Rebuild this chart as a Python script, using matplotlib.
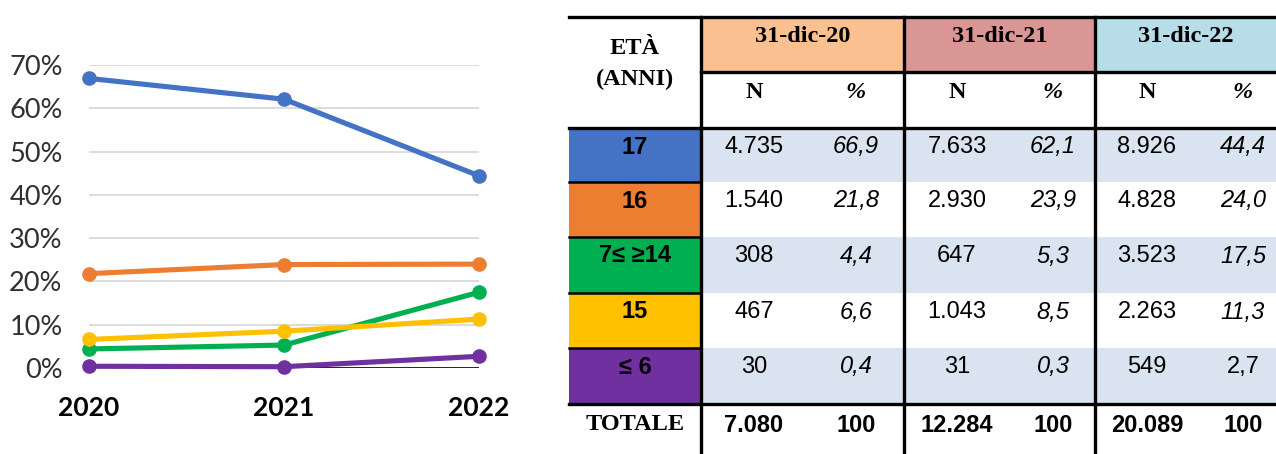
import numpy as np
import matplotlib
import matplotlib.pyplot as plt
from matplotlib.patches import Rectangle

matplotlib.use("Agg")

# data
years = [2020, 2021, 2022]
ages = ["17", "16", "7≤ ≥14", "15", "≤ 6"]
pct_2020 = [66.9, 21.8, 4.4, 6.6, 0.4]
pct_2021 = [62.1, 23.9, 5.3, 8.5, 0.3]
pct_2022 = [44.4, 24.0, 17.5, 11.3, 2.7]
n_2020 = [4735, 1540, 308, 467, 30]
n_2021 = [7633, 2930, 647, 1043, 31]
n_2022 = [8926, 4828, 3523, 2263, 549]
totals = [7080, 12284, 20089]
date_headers = ["31-dic-20", "31-dic-21", "31-dic-22"]

colors = ["#4472C4", "#ED7D31", "#00B050", "#FFC000", "#7030A0"]
header_fills = ["#FAC090", "#DA9694", "#B7DEE8"]
shade = "#DAE3F0"

W, H = 1276, 454
fig = plt.figure(figsize=(W / 100, H / 100), dpi=100)

# ---- line chart ----
ax = fig.add_axes([89 / W, (H - 368) / H, 390 / W, 303 / H])
pcts = np.array([pct_2020, pct_2021, pct_2022]).T / 100
for yt in np.arange(0.1, 0.71, 0.1):
    ax.axhline(yt, color="#D9D9D9", lw=1.3, zorder=1)
ax.axhline(0, color="black", lw=1.2, zorder=1)
for i in range(len(ages)):
    ax.plot(years, pcts[i], color=colors[i], lw=3.7, marker="o",
            markersize=9.5, clip_on=False, zorder=3)
ax.set_xlim(2020, 2022)
ax.set_ylim(0, 0.7)
ax.set_xticks(years)
ax.set_xticklabels([str(y) for y in years], fontfamily="Lato",
                   fontweight="bold", fontsize=19)
ax.set_yticks(np.arange(0, 0.71, 0.1))
ax.set_yticklabels([f"{int(round(v * 100))}%" for v in np.arange(0, 0.71, 0.1)],
                   fontfamily="Lato", fontsize=19.5, color="#303030")
ax.tick_params(axis="x", length=0, pad=20)
ax.tick_params(axis="y", length=0, pad=19)
for s in ax.spines.values():
    s.set_visible(False)

# ---- table ----
tb = fig.add_axes([0, 0, 1, 1])
tb.set_xlim(0, W)
tb.set_ylim(H, 0)
tb.axis("off")

col_x = [569, 701, 904, 1095, 1276]
row_y = [17, 72, 128, 182, 237, 293, 348, 404, 460]
n_x = [754, 957, 1147]
p_x = [856, 1053, 1243]
serif = dict(fontfamily="Liberation Serif", fontweight="bold", fontsize=17.5,
             ha="center", va="center")
sans = ["Liberation Sans", "DejaVu Sans"]
fs = 17

# header fills
for j in range(3):
    tb.add_patch(Rectangle((col_x[j + 1], row_y[0]), col_x[j + 2] - col_x[j + 1],
                           row_y[1] - row_y[0], color=header_fills[j], lw=0))
    tb.text((col_x[j + 1] + col_x[j + 2]) / 2, 37, date_headers[j], **serif)
    tb.text(n_x[j], 93, "N", **serif)
    tb.text(p_x[j], 93, "%", fontstyle="italic", **serif)
tb.text(635, 49, "ETÀ", **serif)
tb.text(635, 79, "(ANNI)", **serif)

ns = [n_2020, n_2021, n_2022]
ps = [pct_2020, pct_2021, pct_2022]
for i, age in enumerate(ages):
    top, bot = row_y[i + 2], row_y[i + 3]
    tb.add_patch(Rectangle((col_x[0], top), col_x[1] - col_x[0], bot - top,
                           color=colors[i], lw=0))
    if i % 2 == 0:
        tb.add_patch(Rectangle((col_x[1], top), col_x[4] - col_x[1], bot - top,
                               color=shade, lw=0))
    tb.text(635, top + 19, age, fontfamily=sans, fontweight="bold",
            fontsize=fs, ha="center", va="center")
    for j in range(3):
        tb.text(n_x[j], top + 19, f"{ns[j][i]:,}".replace(",", "."),
                fontfamily=sans, fontsize=fs, ha="center", va="center")
        style = "normal" if (i == 4 and j == 2) else "italic"
        tb.text(p_x[j], top + 19, f"{ps[j][i]:.1f}".replace(".", ","),
                fontfamily=sans, fontsize=fs, fontstyle=style,
                ha="center", va="center")
    if i < len(ages) - 1:
        tb.plot([col_x[0], col_x[1]], [bot, bot], color="black", lw=1.8)

tb.text(635, 425, "TOTALE", **serif)
for j in range(3):
    tb.text(n_x[j], 425, f"{totals[j]:,}".replace(",", "."), fontfamily=sans,
            fontweight="bold", fontsize=fs, ha="center", va="center")
    tb.text(p_x[j], 425, "100", fontfamily=sans, fontweight="bold",
            fontsize=fs, ha="center", va="center")

# borders
lw = 2.4
tb.plot([col_x[0], col_x[4]], [row_y[0], row_y[0]], color="black", lw=lw)
tb.plot([col_x[1], col_x[4]], [row_y[1], row_y[1]], color="black", lw=lw)
tb.plot([col_x[0], col_x[4]], [row_y[2], row_y[2]], color="black", lw=lw)
tb.plot([col_x[0], col_x[4]], [row_y[7], row_y[7]], color="black", lw=lw)
for x in col_x[1:4]:
    tb.plot([x, x], [row_y[0], H], color="black", lw=lw)

fig.savefig("out.png", dpi=100)
